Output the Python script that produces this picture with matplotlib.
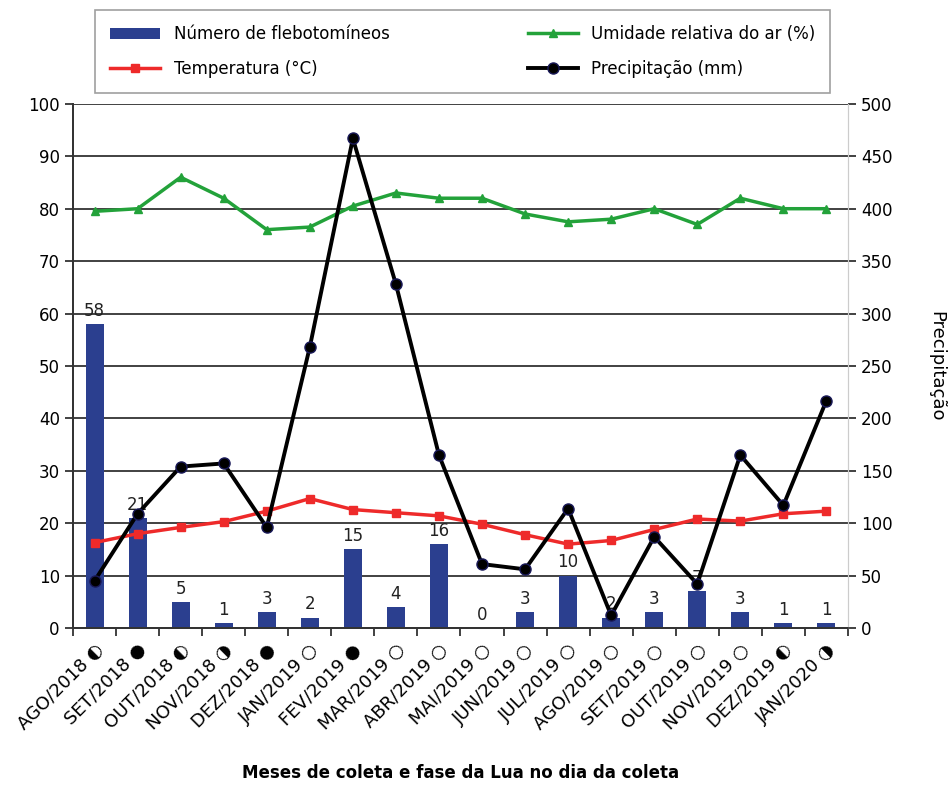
import matplotlib
matplotlib.use('Agg')
import matplotlib.pyplot as plt
import numpy as np

meses = ['AGO/2018 ◐', 'SET/2018 ●', 'OUT/2018 ◐', 'NOV/2018 ◑', 'DEZ/2018 ●',
         'JAN/2019 ○', 'FEV/2019 ●', 'MAR/2019 ○', 'ABR/2019 ○', 'MAI/2019 ○',
         'JUN/2019 ○', 'JUL/2019 ○', 'AGO/2019 ○', 'SET/2019 ○', 'OUT/2019 ○',
         'NOV/2019 ○', 'DEZ/2019 ◐', 'JAN/2020 ◑']
flebotomineos = [58, 21, 5, 1, 3, 2, 15, 4, 16, 0, 3, 10, 2, 3, 7, 3, 1, 1]
umidade = [79.5, 80, 86, 82, 76, 76.5, 80.5, 83, 82, 82, 79, 77.5, 78, 80, 77, 82, 80, 80]
temperatura = [16.3, 18, 19.2, 20.3, 22.3, 24.7, 22.6, 22, 21.4, 19.8, 17.8, 16,
               16.7, 18.8, 20.8, 20.4, 21.8, 22.3]
precipitacao = [45, 109, 154, 157, 96, 268, 467, 328, 165, 61, 56, 114, 12, 87, 42,
                165, 117, 217]

x = np.arange(len(meses))

fig = plt.figure(figsize=(9.52, 7.87), dpi=100)
ax = fig.add_axes([0.0767, 0.202, 0.814, 0.666])
ax2 = ax.twinx()

bars = ax.bar(x, flebotomineos, width=0.42, color='#2B3F8F', zorder=2,
              label='Número de flebotomíneos')
for xi, v in zip(x, flebotomineos):
    ax.text(xi, v + 0.8, str(v), ha='center', va='bottom', fontsize=12, color='#222222')

l_temp, = ax.plot(x, temperatura, color='#EE2A2A', lw=2.5, marker='s', ms=6,
                  zorder=3, label='Temperatura (°C)')
l_umid, = ax.plot(x, umidade, color='#23A23A', lw=2.5, marker='^', ms=6,
                  zorder=3, label='Umidade relativa do ar (%)')
l_prec, = ax2.plot(x, precipitacao, color='black', lw=2.8, marker='o', ms=8,
                   markerfacecolor='black', markeredgecolor='#1a1a5a', zorder=4,
                   label='Precipitação (mm)')

ax.set_zorder(ax2.get_zorder() - 1)
ax.patch.set_visible(False)
ax2.patch.set_visible(False)

ax.set_xlim(-0.5, len(meses) - 0.5)
ax.set_ylim(0, 100)
ax2.set_ylim(0, 500)
ax.set_yticks(np.arange(0, 101, 10))
ax2.set_yticks(np.arange(0, 501, 50))
ax.yaxis.grid(True, color='#333333', lw=1.3, zorder=0)
ax.set_axisbelow(True)

ax.set_xticks(x)
ax.set_xticklabels(meses, rotation=45, ha='right', rotation_mode='anchor', fontsize=13)
ax.set_xticks(np.arange(-0.5, len(meses), 1), minor=True)
ax.tick_params(axis='x', which='major', length=0, pad=9)
ax.tick_params(axis='x', which='minor', length=6, width=1.3, color='#333333')
ax.tick_params(axis='y', labelsize=12, length=6, width=1.3, color='#333333')
ax2.tick_params(axis='y', labelsize=12, length=6, width=1.3, color='#333333')

for a in (ax, ax2):
    a.spines['top'].set_visible(False)
    a.spines['right'].set_color('#cccccc')
    a.spines['left'].set_color('#333333')
    a.spines['bottom'].set_color('#333333')
    a.spines['left'].set_linewidth(1.3)
    a.spines['bottom'].set_linewidth(1.3)

ax2.set_ylabel('Precipitação', rotation=-90, labelpad=38, fontsize=13)
ax.set_xlabel('Meses de coleta e fase da Lua no dia da coleta', fontsize=12,
              fontweight='bold', labelpad=22)

leg = fig.legend(handles=[bars, l_temp, l_umid, l_prec], ncol=2,
                 loc='upper left', bbox_to_anchor=(0.1, 0.987, 0.772, 0.0),
                 mode='expand', borderaxespad=0, fontsize=12,
                 frameon=True, fancybox=False, edgecolor='#888888',
                 handlelength=3, borderpad=0.9, labelspacing=1.0)
leg.get_frame().set_linewidth(1.2)

fig.savefig('out.png', dpi=100)
